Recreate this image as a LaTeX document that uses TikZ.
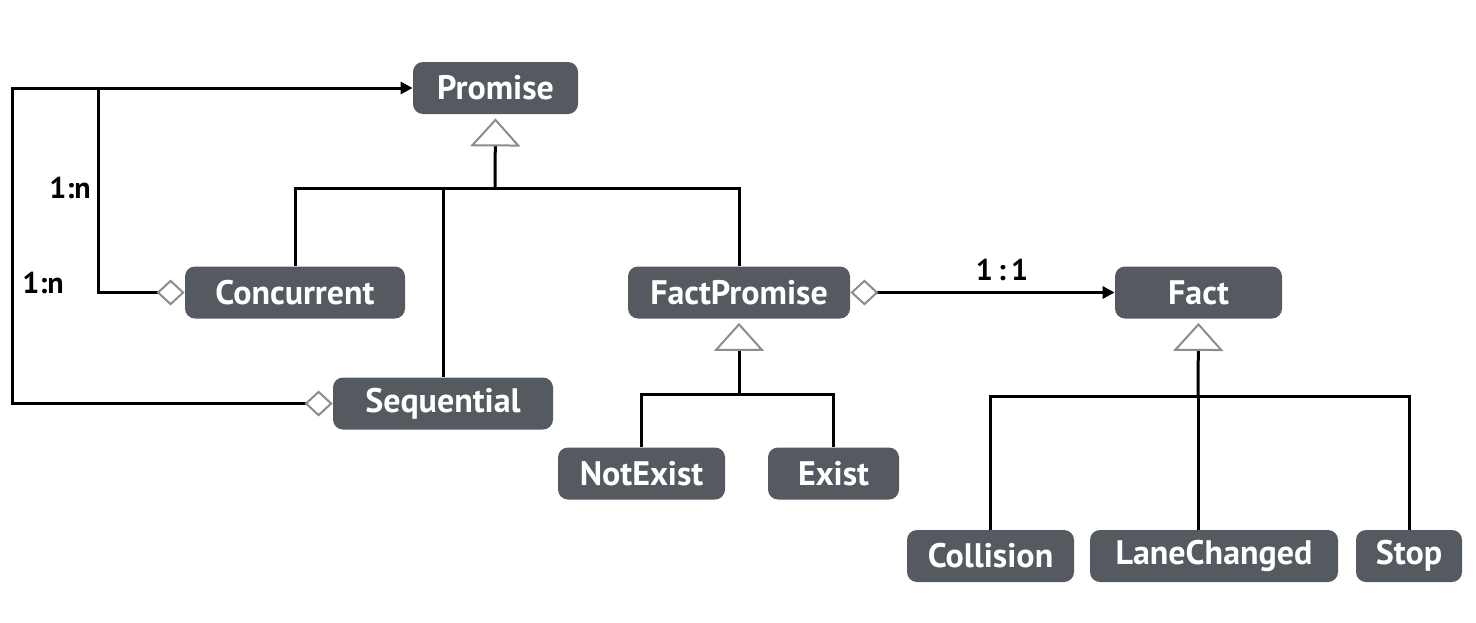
\documentclass[tikz,border=0pt]{standalone}
\usepackage{fontspec}
\setmainfont{PT Sans}
\usetikzlibrary{arrows.meta}
\definecolor{boxfill}{HTML}{555A61}
\definecolor{tipgray}{HTML}{8C8C8C}
\tikzset{
  cls/.style={fill=boxfill, rounded corners=5pt, text=white,
    font=\bfseries\fontsize{17}{19}\selectfont, minimum height=26pt, inner sep=0pt},
  link/.style={line width=1.5pt, draw=black},
  gen/.style={arrows={-Triangle[open, length=14pt, width=25pt, color=tipgray, line width=1pt]}, shorten >=2pt},
  aggto/.style={arrows={Diamond[open, length=14pt, width=13pt, color=tipgray, line width=1pt]-Triangle[length=6pt, width=6pt]}},
  agg/.style={arrows={Diamond[open, length=14pt, width=13pt, color=tipgray, line width=1pt]-}},
  mult/.style={font=\bfseries\fontsize{15}{17}\selectfont, text=black, inner sep=0pt}
}
\begin{document}
\begin{tikzpicture}[x=0.5pt, y=-0.5pt]
\useasboundingbox (0,0) rectangle (1476,622);
% classes
\node[cls, minimum width=82.5pt] (promise) at (495.5,88) {Promise};
\node[cls, minimum width=110pt] (conc) at (295,292.5) {Concurrent};
\node[cls, minimum width=110pt] (seq) at (443,403.5) {Sequential};
\node[cls, minimum width=111pt] (fp) at (739,292.5) {FactPromise};
\node[cls, minimum width=83.5pt] (fact) at (1198.5,292.5) {Fact};
\node[cls, minimum width=83.5pt] (notex) at (641.5,473.5) {NotExist};
\node[cls, minimum width=65.5pt] (exist) at (833.5,473.5) {Exist};
\node[cls, minimum width=83.5pt] (coll) at (990.5,556) {Collision};
\node[cls, minimum width=124pt] (lane) at (1214,556) {LaneChanged};
\node[cls, minimum width=53pt] (stop) at (1409,556) {Stop};
% labels
\node[mult] (m1) at (70,188) {1:n};
\node[mult] (m2) at (43,283) {1:n};
\node[mult] (m3) at (1002,270) {1\,:\,1};
% junctions
\coordinate (pj) at (495,188);
\coordinate (fpj) at (739,394);
\coordinate (fj) at (1198,396);
\coordinate (L1) at (12,88);
\coordinate (L2) at (98,88);
% Promise hierarchy
\draw[link, gen] (pj) -- (promise.south);
\draw[link] (conc.north) -- (conc.north |- pj) -- (fp.north |- pj) -- (fp.north);
\draw[link] (seq.north) -- (seq.north |- pj);
% aggregations
\draw[link, aggto] (seq.west) -- (seq.west -| L1) -- (L1) -- (promise.west);
\draw[link, agg] (conc.west) -- (conc.west -| L2) -- (L2);
\draw[link, aggto] (fp.east) -- (fact.west);
% FactPromise hierarchy
\draw[link, gen] (fpj) -- (fp.south);
\draw[link] (notex.north) -- (notex.north |- fpj) -- (exist.north |- fpj) -- (exist.north);
% Fact hierarchy
\draw[link, gen] (fj) -- (fact.south);
\draw[link] (coll.north) -- (coll.north |- fj) -- (stop.north |- fj) -- (stop.north);
\draw[link] (lane.north -| fj) -- (fj);
\end{tikzpicture}
\end{document}
